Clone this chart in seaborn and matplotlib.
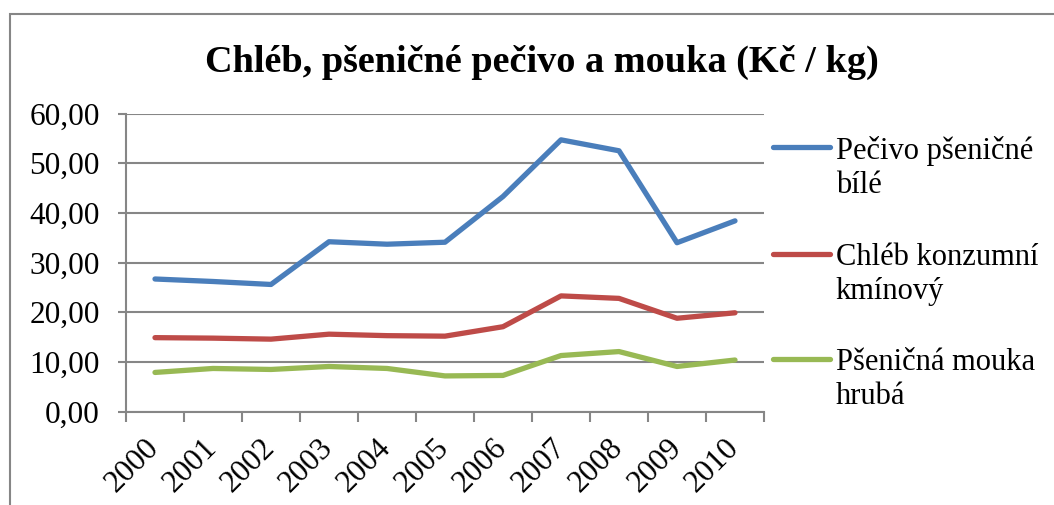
import matplotlib
matplotlib.use("Agg")
import matplotlib.pyplot as plt
import seaborn as sns
import pandas as pd
from matplotlib.patches import Rectangle
from matplotlib.ticker import FixedLocator, FuncFormatter

years = ["2000", "2001", "2002", "2003", "2004", "2005", "2006", "2007", "2008", "2009", "2010"]
pecivo = [26.7, 26.2, 25.6, 34.2, 33.7, 34.1, 43.3, 54.7, 52.5, 34.0, 38.4]
chleb = [14.9, 14.8, 14.6, 15.6, 15.3, 15.2, 17.1, 23.3, 22.8, 18.8, 19.9]
mouka = [7.9, 8.7, 8.5, 9.1, 8.7, 7.2, 7.3, 11.3, 12.1, 9.1, 10.4]
series_names = ["Pečivo pšeničné\nbílé", "Chléb konzumní\nkmínový", "Pšeničná mouka\nhrubá"]
colors = ["#4A7EBB", "#BE4B48", "#98B954"]

rows = []
for name, vals in zip(series_names, [pecivo, chleb, mouka]):
    for i, v in enumerate(vals):
        rows.append({"x": i, "year": years[i], "value": v, "series": name})
df = pd.DataFrame(rows)

sns.set_theme(style="white")
plt.rcParams["font.family"] = ["Liberation Serif", "DejaVu Serif"]
plt.rcParams["text.color"] = "black"

GRAY = "#868686"
fig = plt.figure(figsize=(10.54, 5.05), dpi=100)
ax = fig.add_axes([126/1054, 1-411.7/505, (764-126)/1054, (411.7-113.5)/505])

sns.lineplot(data=df, x="x", y="value", hue="series", palette=colors,
             linewidth=3.8, ax=ax, legend=True, solid_capstyle="round")

ax.set_xlim(-0.5, 10.5)
ax.set_ylim(0, 60)
ax.yaxis.set_major_locator(FixedLocator([0, 10, 20, 30, 40, 50, 60]))
ax.yaxis.set_major_formatter(FuncFormatter(lambda v, p: f"{v:.2f}".replace(".", ",")))
ax.grid(axis="y", color=GRAY, linewidth=1.5)
ax.set_axisbelow(True)
for s in ["top", "right"]:
    ax.spines[s].set_visible(False)
for s in ["left", "bottom"]:
    ax.spines[s].set_color(GRAY)
    ax.spines[s].set_linewidth(1.5)

ax.set_xticks(range(len(years)))
ax.set_xticklabels(years, rotation=45, ha="right", va="center", rotation_mode="anchor", fontsize=22.5)
ax.tick_params(axis="x", length=0, pad=23, labelcolor="black")
ax.set_xticks([i - 0.5 for i in range(len(years) + 1)], minor=True)
ax.tick_params(axis="x", which="minor", length=7, width=1.5, color=GRAY, bottom=True)
ax.tick_params(axis="y", labelsize=22.5, length=6, width=1.5, color=GRAY, left=True, pad=13,
               labelcolor="black")
ax.set_xlabel("")
ax.set_ylabel("")

FS = 22
leg = ax.legend(loc="upper left", bbox_to_anchor=(1.0, 0.955), frameon=False,
                fontsize=FS, handlelength=1.85, labelspacing=1.4, handletextpad=0.2,
                borderaxespad=0.3, borderpad=0.0)
for t in leg.get_texts():
    t.set_linespacing(1.22)
    t.set_color("black")
for line in leg.get_lines():
    line.set_linewidth(3.8)
    line.set_solid_capstyle("round")
    y = line.get_ydata()
    line.set_ydata([v + 15 for v in y])

fig.text(542/1054, 1-62/505, "Chléb, pšeničné pečivo a mouka (Kč / kg)", ha="center", va="center",
         fontsize=27.5, fontweight="bold", color="black")

fig.patches.append(Rectangle((10/1054, -0.2), 1.2, 0.2 + (1-14/505), transform=fig.transFigure,
                             fill=False, edgecolor=GRAY, linewidth=1.5))

fig.savefig("out.png", dpi=100)
